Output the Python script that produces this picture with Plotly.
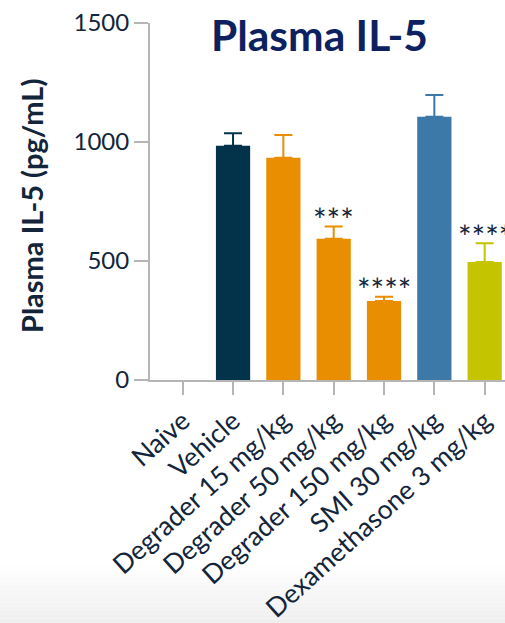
import plotly.graph_objects as go

# Plasma IL-5 by treatment group (mean + SEM, pg/mL)
groups = ["Naive", "Vehicle", "Degrader 15 mg/kg", "Degrader 50 mg/kg",
          "Degrader 150 mg/kg", "SMI 30 mg/kg", "Dexamethasone 3 mg/kg"]
means = [0, 984, 934, 593, 332, 1106, 496]
sems = [None, 53, 95, 52, 18, 92, 79]
colors = ["#02334a", "#02334a", "#e88e00", "#e88e00", "#e88e00", "#3c78a8", "#c4c400"]
significance = ["", "", "", "***", "****", "", "****"]

y_ticks = [0, 500, 1000, 1500]

W, H = 505, 623
LEFT, TOP, BOTTOM = 150, 23, 243
plot_h = H - TOP - BOTTOM

text_color = "#12253a"
axis_color = "#b5b5b5"

fig = go.Figure()

for i, (g, m, e, c) in enumerate(zip(groups, means, sems, colors)):
    fig.add_trace(go.Bar(
        x=[i], y=[m],
        marker=dict(color=c, line=dict(width=0)),
        width=0.68,
        error_y=dict(type="data", array=[e], visible=e is not None,
                     symmetric=False, arrayminus=[0],
                     color=c, thickness=2, width=9),
        showlegend=False,
        hoverinfo="skip",
    ))

# significance stars above the error bars
annotations = []
for i, (m, e, s) in enumerate(zip(means, sems, significance)):
    if s:
        annotations.append(dict(
            x=i, y=m + (e or 0), xref="x", yref="y",
            text=s, showarrow=False, yanchor="middle", yshift=7,
            font=dict(family="Lato", size=32, color=text_color),
        ))

# chart title
annotations.append(dict(
    x=(319 - LEFT) / (W - LEFT), y=(380 - 34) / plot_h,
    xref="paper", yref="paper", text="<b>Plasma IL-5</b>", showarrow=False,
    xanchor="center", yanchor="middle",
    font=dict(family="Lato", size=42.5, color="#0d2160"),
))

# y-axis title
annotations.append(dict(
    x=(32 - LEFT) / (W - LEFT), y=(380 - 206) / plot_h,
    xref="paper", yref="paper", text="<b>Plasma IL-5 (pg/mL)</b>",
    showarrow=False, textangle=-90, xanchor="center", yanchor="middle",
    font=dict(family="Lato", size=29, color=text_color),
))

# soft grey fade at the bottom of the page
shapes = []
n_strips = 14
y_start, y_end = 565, H
for k in range(n_strips):
    p0 = y_start + (y_end - y_start) * k / n_strips
    p1 = y_start + (y_end - y_start) * (k + 1) / n_strips
    shade = int(round(255 - 16 * (k + 1) / n_strips))
    shapes.append(dict(
        type="rect", xref="paper", yref="paper", layer="below",
        x0=-1, x1=2,
        y0=(380 - p1) / plot_h, y1=(380 - p0) / plot_h,
        fillcolor=f"rgb({shade},{shade},{min(shade + 1, 255)})",
        line=dict(width=0),
    ))

fig.update_layout(
    width=W, height=H,
    margin=dict(l=LEFT, r=0, t=TOP, b=BOTTOM, pad=0, autoexpand=False),
    paper_bgcolor="white", plot_bgcolor="rgba(0,0,0,0)",
    font=dict(family="Lato", color=text_color),
    bargap=0.32,
    annotations=annotations,
    shapes=shapes,
    xaxis=dict(
        range=[-0.65, 6.404], automargin=False,
        tickmode="array", tickvals=list(range(len(groups))), ticktext=groups,
        tickangle=-42, tickfont=dict(family="Lato", size=26.5, color=text_color),
        showline=True, linecolor=axis_color, linewidth=2,
        ticks="outside", ticklen=13, tickwidth=2, tickcolor=axis_color,
        showgrid=False, zeroline=False, fixedrange=True,
    ),
    yaxis=dict(
        range=[0, 1500], automargin=False,
        tickmode="array", tickvals=y_ticks, ticktext=[str(t) for t in y_ticks],
        tickfont=dict(family="Lato", size=24, color=text_color),
        showline=True, linecolor=axis_color, linewidth=2,
        ticks="outside", ticklen=14, tickwidth=2, tickcolor=axis_color,
        showgrid=False, zeroline=False, fixedrange=True,
    ),
)

fig.write_html("out.html")
